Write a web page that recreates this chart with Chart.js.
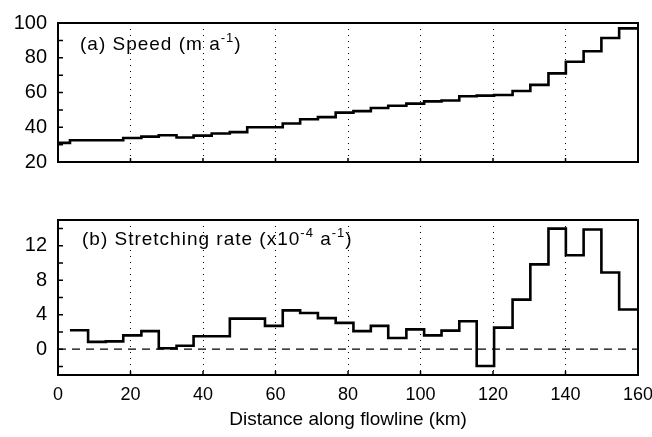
<!DOCTYPE html>
<html>
<head>
<meta charset="utf-8">
<script src="https://cdn.jsdelivr.net/npm/chart.js@4.4.0/dist/chart.umd.min.js"></script>
<style>
html, body { margin: 0; padding: 0; background: #fff; }
#wrap { position: relative; width: 652px; height: 437px; }
#top { position: absolute; left: 0; top: 0; width: 652px; height: 185px; }
#bottom { position: absolute; left: 0; top: 185px; width: 652px; height: 252px; }
</style>
</head>
<body>
<div id="wrap">
  <div id="top"><canvas id="speedChart"></canvas></div>
  <div id="bottom"><canvas id="stretchChart"></canvas></div>
</div>
<script>
// bin edges along the flowline (km)
const binEdges = [3.3, 8.3, 13.2, 18, 23, 27.8, 32.7, 37.4, 42.4, 47.4, 52.2, 57.1, 62, 66.8, 71.7, 76.6,
    81.5, 86.3, 91.1, 96.1, 101, 105.8, 110.7, 115.5, 120.3, 125.4, 130.3, 135.3, 140.1, 145, 149.9, 154.8, 160];
const speedStartKm = 0;

// (a) speed, m/a  (first value covers 0 - 3.3 km)
const speedValues = [31, 32.5, 32.5, 32.5, 33.8, 34.6, 35.4, 34.1, 35.2, 36.4, 37.2, 40.0, 40.0, 42.2, 44.6, 45.8,
    48.4, 49.3, 51.1, 52.4, 53.6, 54.9, 55.4, 57.8, 58.2, 58.6, 60.9, 64.4, 71.0, 77.7, 83.7, 91.4, 96.9];

// (b) stretching rate, x10^-4 /a
const stretchValues = [2.2, 0.85, 0.9, 1.6, 2.1, 0.1, 0.4, 1.5, 1.5, 3.55, 3.55, 2.7, 4.5, 4.2, 3.6, 3.05,
    2.1, 2.7, 1.3, 2.3, 1.6, 2.15, 3.25, -1.95, 2.5, 5.75, 9.85, 14.0, 10.9, 13.9, 8.9, 4.6];

const distanceTicks = [0, 20, 40, 60, 80, 100, 120, 140, 160];
const speedTicks = [20, 40, 60, 80, 100];
const speedMinorTicks = [30, 40, 50, 60, 70, 80, 90];
const stretchTicks = [0, 4, 8, 12];
const stretchMinorTicks = [-2, 0, 2, 4, 6, 8, 10, 12, 14];

const FONT = '"Liberation Sans", Arial, sans-serif';

function stepPoints(edges, values) {
    const pts = values.map((v, i) => ({ x: edges[i], y: v }));
    pts.push({ x: edges[edges.length - 1], y: values[values.length - 1] });
    return pts;
}

// frame, inward ticks and panel label
function panelPlugin(labelParts, minorTicks, dx, dy) {
    return {
        id: 'panel',
        afterDatasetsDraw(chart) {
            const ctx = chart.ctx;
            const a = chart.chartArea;
            const xs = chart.scales.x, ys = chart.scales.y;
            ctx.save();
            ctx.strokeStyle = '#000';
            ctx.lineWidth = 1.5;
            ctx.beginPath();
            minorTicks.forEach(v => {
                const y = ys.getPixelForValue(v);
                ctx.moveTo(a.left, y);
                ctx.lineTo(a.left + 5, y);
            });
            distanceTicks.forEach(v => {
                const x = xs.getPixelForValue(v);
                ctx.moveTo(x, a.bottom);
                ctx.lineTo(x, a.bottom - 4);
            });
            ctx.stroke();
            ctx.lineWidth = 2;
            ctx.strokeRect(a.left, a.top, a.right - a.left, a.bottom - a.top);

            let x = a.left + dx;
            const y = a.top + dy;
            ctx.fillStyle = '#000';
            ctx.textBaseline = 'alphabetic';
            ctx.letterSpacing = '1px';
            labelParts.forEach(p => {
                ctx.font = (p.sup ? '13px ' : '19px ') + FONT;
                ctx.fillText(p.t, x, p.sup ? y - 8 : y);
                x += ctx.measureText(p.t).width;
            });
            ctx.restore();
        }
    };
}

const gridColor = c => (c.tick && (c.tick.value === 0 || c.tick.value === 160)) ? 'rgba(0,0,0,0)' : '#000';

function xScale(showLabels) {
    return {
        type: 'linear', min: 0, max: 160,
        afterBuildTicks: s => { s.ticks = distanceTicks.map(v => ({ value: v })); },
        ticks: { display: showLabels, color: '#000', padding: 9, maxRotation: 0, font: { family: FONT, size: 18 } },
        grid: { drawTicks: false, color: gridColor, lineWidth: 1 },
        border: { display: false, dash: [1, 5] },
        title: {
            display: showLabels, text: 'Distance along flowline (km)', color: '#000',
            font: { family: FONT, size: 19 }, padding: { top: 4, bottom: 6 }
        },
        afterFit: s => {
            s.height = showLabels ? 62 : 0;
            s.paddingLeft = 0;
            s.paddingRight = 0;
        }
    };
}

function yScale(min, max, ticks) {
    return {
        min: min, max: max,
        afterBuildTicks: s => { s.ticks = ticks.map(v => ({ value: v })); },
        ticks: { color: '#000', padding: 11, font: { family: FONT, size: 20 } },
        grid: { display: false, drawTicks: false },
        border: { display: false },
        afterFit: s => { s.width = 58; }
    };
}

const commonPlugins = { legend: { display: false }, tooltip: { enabled: false } };

new Chart(document.getElementById('speedChart'), {
    type: 'line',
    data: {
        datasets: [{
            data: stepPoints([speedStartKm].concat(binEdges), speedValues),
            stepped: 'before',
            borderColor: '#000',
            borderWidth: 2.6,
            pointRadius: 0,
            fill: false
        }]
    },
    options: {
        responsive: true,
        maintainAspectRatio: false,
        animation: false,
        layout: { padding: { top: 16, right: 14, bottom: 14, left: 0 } },
        scales: { x: xScale(false), y: yScale(20, 100, speedTicks) },
        plugins: commonPlugins
    },
    plugins: [panelPlugin([{ t: '(a) Speed (m a' }, { t: '-1', sup: true }, { t: ')' }], speedMinorTicks, 22, 27)]
});

new Chart(document.getElementById('stretchChart'), {
    type: 'line',
    data: {
        datasets: [{
            data: [{ x: 0, y: 0 }, { x: 160, y: 0 }],
            borderColor: '#000',
            borderWidth: 1.4,
            borderDash: [8, 6],
            pointRadius: 0,
            fill: false
        }, {
            data: stepPoints(binEdges, stretchValues),
            stepped: 'before',
            borderColor: '#000',
            borderWidth: 2.6,
            pointRadius: 0,
            fill: false
        }]
    },
    options: {
        responsive: true,
        maintainAspectRatio: false,
        animation: false,
        layout: { padding: { top: 35, right: 14, bottom: 0, left: 0 } },
        scales: { x: xScale(true), y: yScale(-3, 15, stretchTicks) },
        plugins: commonPlugins
    },
    plugins: [panelPlugin([{ t: '(b) Stretching rate (x10' }, { t: '-4', sup: true }, { t: ' a' }, { t: '-1', sup: true }, { t: ')' }],
        stretchMinorTicks, 24, 25)]
});
</script>
</body>
</html>
